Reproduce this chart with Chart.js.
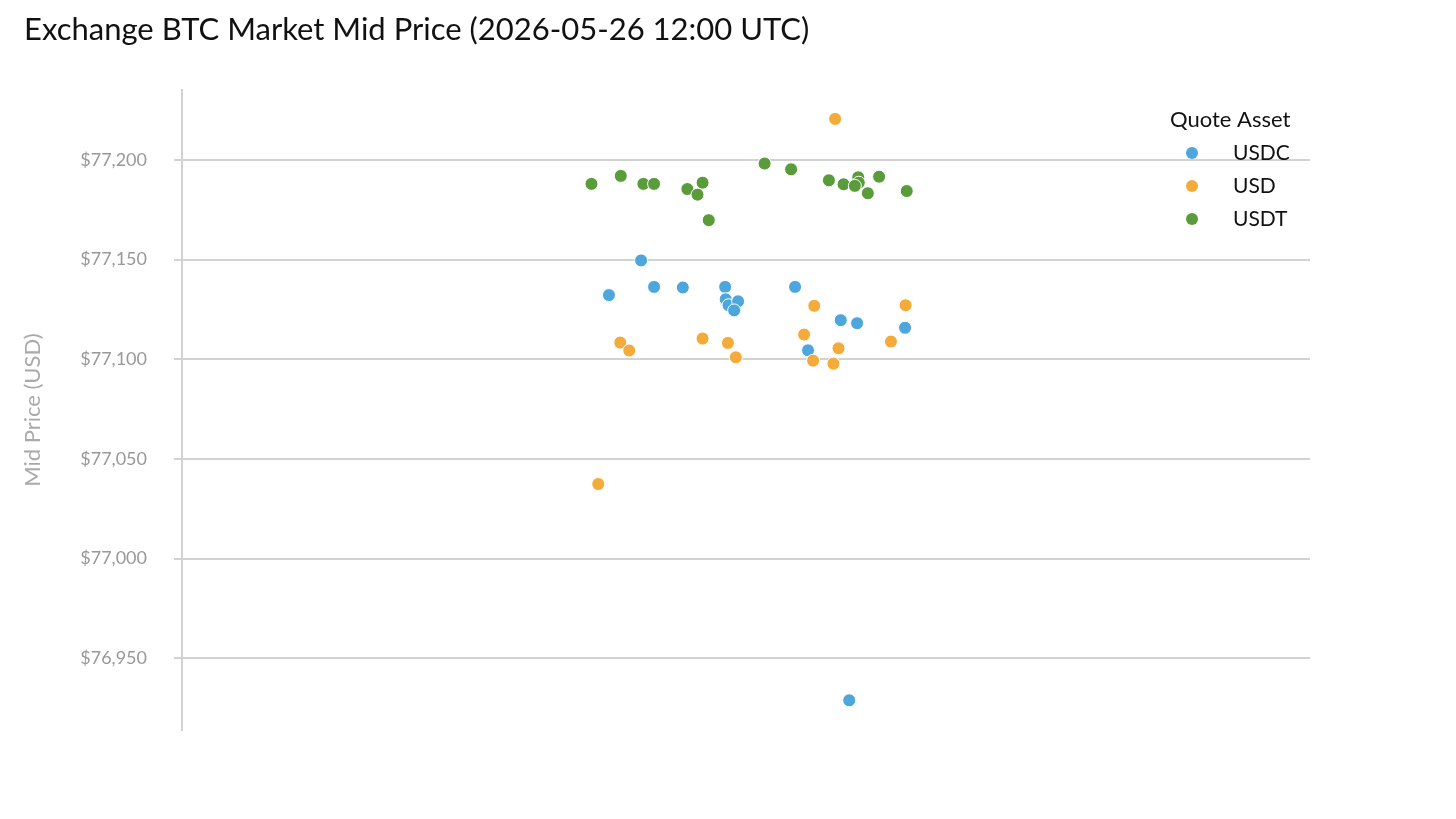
<!DOCTYPE html>
<html>
<head>
<meta charset="utf-8">
<script src="https://cdn.jsdelivr.net/npm/chart.js@4.4.1/dist/chart.umd.min.js"></script>
<style>
  html, body { margin: 0; padding: 0; background: #fff; }
  #wrap { width: 1456px; height: 819px; }
</style>
</head>
<body>
<div id="wrap"><canvas id="myChart" width="1456" height="819"></canvas></div>
<script>
// jitter position (x) and mid price (y) per quote asset
const usdcX = [-0.186, -0.243, -0.163, -0.112, -0.037, -0.036, -0.031, -0.014, -0.021, 0.087, 0.168, 0.197, 0.282, 0.110, 0.183];
const usdcY = [77149.6, 77132.2, 77136.3, 77136.0, 77136.3, 77130.1, 77127.1, 77129.1, 77124.5, 77136.3, 77119.6, 77118.1, 77115.8, 77104.5, 76928.9];

const usdX = [-0.223, -0.207, -0.077, -0.032, -0.018, 0.121, 0.103, 0.164, 0.119, 0.155, 0.283, 0.257, -0.262, 0.158];
const usdY = [77108.4, 77104.4, 77110.4, 77108.2, 77101.0, 77126.8, 77112.4, 77105.5, 77099.3, 77097.8, 77127.1, 77108.9, 77037.4, 77220.6];

const usdtX = [-0.274, -0.222, -0.182, -0.163, -0.104, -0.077, -0.086, -0.066, 0.033, 0.080, 0.147, 0.173, 0.199, 0.200, 0.193, 0.216, 0.236, 0.285];
const usdtY = [77188.0, 77192.0, 77188.0, 77188.0, 77185.4, 77188.6, 77182.6, 77169.8, 77198.2, 77195.3, 77189.8, 77187.8, 77191.3, 77188.6, 77187.0, 77183.3, 77191.6, 77184.4];

const seriesNames = ["USDC", "USD", "USDT"];
const seriesColors = ["#4ea7dc", "#f3ac3b", "#5a9b3c"];
const yTicks = [76950, 77000, 77050, 77100, 77150, 77200];

const FONT = "Lato, 'Noto Sans', sans-serif";

function toPoints(xs, ys) {
  return xs.map((x, i) => ({ x: x, y: ys[i] }));
}

// legend drawn in the top-right corner of the plot, like the original
const quoteLegend = {
  id: "quoteLegend",
  afterDraw(chart) {
    const ctx = chart.ctx;
    ctx.save();
    ctx.fillStyle = "#111";
    ctx.textBaseline = "middle";
    ctx.textAlign = "left";
    ctx.font = "22px " + FONT;
    ctx.fillText("Quote Asset", 1170, 120);
    ctx.font = "21px " + FONT;
    seriesNames.forEach((name, i) => {
      const y = 153 + i * 33;
      ctx.beginPath();
      ctx.arc(1192, y, 6, 0, Math.PI * 2);
      ctx.fillStyle = seriesColors[i];
      ctx.fill();
      ctx.fillStyle = "#111";
      ctx.fillText(name, 1233, y);
    });
    ctx.restore();
  }
};

const ctx = document.getElementById("myChart").getContext("2d");

new Chart(ctx, {
  type: "scatter",
  data: {
    datasets: [
      { label: "USDC", data: toPoints(usdcX, usdcY), backgroundColor: seriesColors[0], order: 2 },
      { label: "USD", data: toPoints(usdX, usdY), backgroundColor: seriesColors[1], order: 1 },
      { label: "USDT", data: toPoints(usdtX, usdtY), backgroundColor: seriesColors[2], order: 0 },
    ],
  },
  options: {
    responsive: false,
    animation: false,
    devicePixelRatio: 1,
    layout: { padding: { left: 24, right: 146, top: 0, bottom: 89 } },
    elements: {
      point: { radius: 6.5, borderColor: "#ffffff", borderWidth: 1, hoverRadius: 6.5 },
    },
    plugins: {
      legend: { display: false },
      tooltip: { enabled: false },
      title: {
        display: true,
        text: "Exchange BTC Market Mid Price (2026-05-26 12:00 UTC)",
        align: "start",
        color: "#111",
        font: { family: FONT, size: 31, weight: "normal" },
        padding: { top: 11, bottom: 42 },
      },
    },
    scales: {
      x: { type: "linear", display: false, min: -1, max: 1 },
      y: {
        min: 76914,
        max: 77235,
        afterFit(scale) { scale.width = 158; },
        afterBuildTicks(scale) { scale.ticks = yTicks.map(v => ({ value: v })); },
        border: { display: true, color: "#d2d2d2", width: 2 },
        grid: { color: "#d2d2d2", lineWidth: 2, tickLength: 8, drawTicks: true },
        ticks: {
          padding: 27,
          color: "#999",
          font: { family: FONT, size: 18 },
          callback: v => "$" + v.toLocaleString("en-US"),
        },
        title: {
          display: true,
          text: "Mid Price (USD)",
          color: "#aaa",
          font: { family: FONT, size: 22 },
          padding: { top: -4, bottom: 0 },
        },
      },
    },
  },
  plugins: [quoteLegend],
});
</script>
</body>
</html>
